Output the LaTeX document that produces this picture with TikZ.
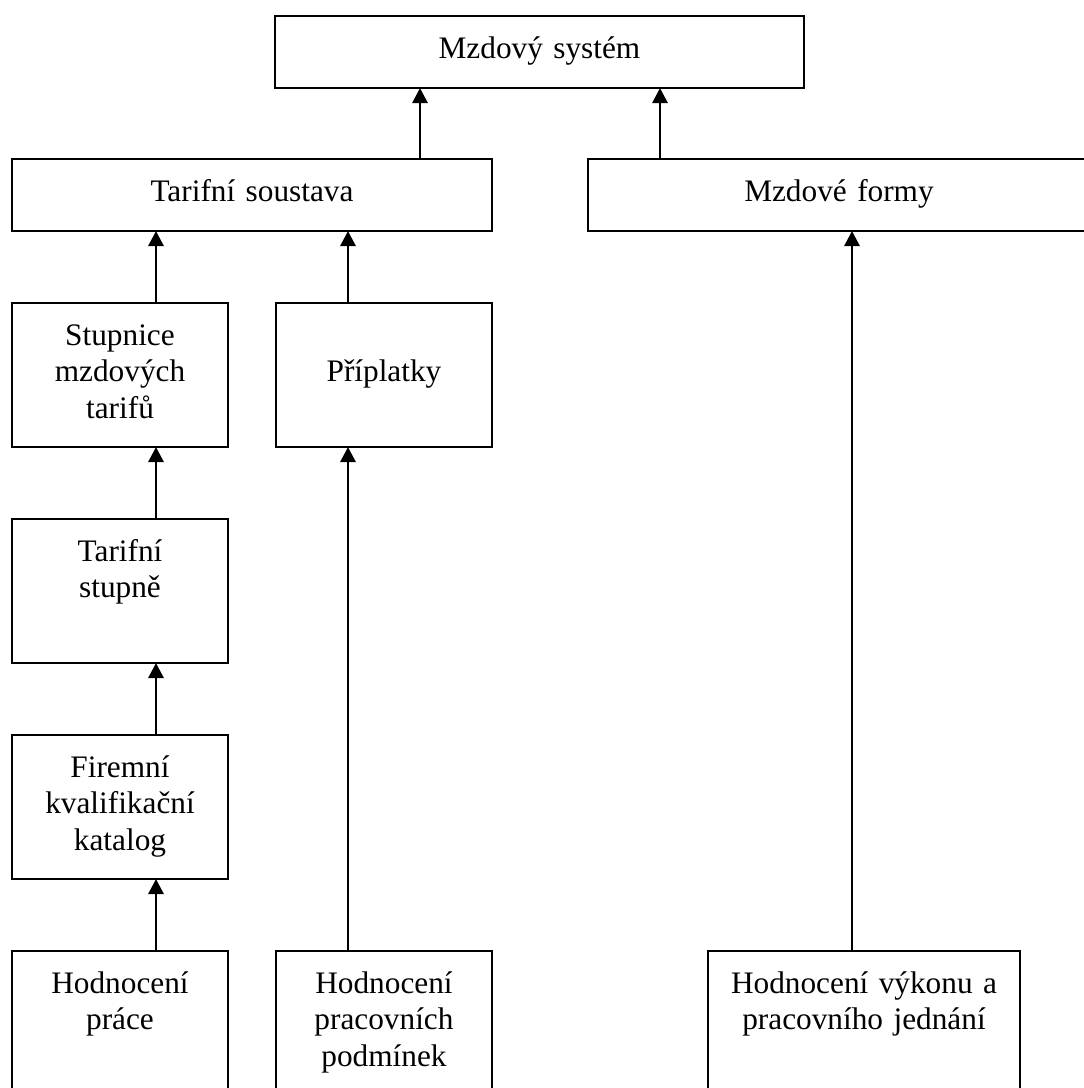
\documentclass[tikz,border=0pt]{standalone}
\usepackage{fontspec}
\setmainfont{Liberation Serif}
\usetikzlibrary{arrows.meta,positioning}

\begin{document}
\begin{tikzpicture}[
  x=1pt,y=-1pt,
  box/.style={draw,line width=2.8pt,inner sep=0pt,outer sep=0pt,anchor=north,
              align=center,font=\fontsize{31.3}{36.7}\selectfont,text height=42pt},
  wide/.style={box,text width=#1,text depth=30pt},
  tall/.style={box,text width=#1,text depth=102pt},
  arr/.style={-{Triangle[width=15pt,length=15pt]},line width=2.8pt}
]
\clip (0,0) rectangle (1084,1088);
% columns of the arrows
\coordinate (lcol) at (156,0);
\coordinate (mcol) at (348,0);
\coordinate (tcol) at (420,0);
\coordinate (fcol) at (660,0);
\coordinate (rcol) at (852,0);
% top levels
\node[wide=529pt] (mzdy) at (539.5,16) {Mzdový systém};
\node[wide=480pt] (tarif) at (252,159) {Tarifní soustava};
\node[wide=502pt] (formy) at (839,159) {Mzdové formy};
% left and middle columns
\node[tall=216pt] (stup) at (120,303) {Stupnice\\mzdových\\tarifů};
\node[tall=216pt,text height=78.7pt,text depth=65.3pt] (prip) at (384,303) {Příplatky};
\node[tall=216pt] (stupne) at (120,519) {Tarifní\\stupně};
\node[tall=216pt] (katalog) at (120,735) {Firemní\\kvalifikační\\katalog};
% bottom row
\node[tall=216pt] (prace) at (120,951) {Hodnocení\\práce};
\node[tall=216pt] (podm) at (384,951) {Hodnocení\\pracovních\\podmínek};
\node[tall=312pt] (vykon) at (864,951) {Hodnocení výkonu a\\pracovního jednání};
% arrows
\draw[arr] (tarif.north -| tcol) -- (mzdy.south -| tcol);
\draw[arr] (formy.north -| fcol) -- (mzdy.south -| fcol);
\draw[arr] (stup.north -| lcol) -- (tarif.south -| lcol);
\draw[arr] (prip.north -| mcol) -- (tarif.south -| mcol);
\draw[arr] (stupne.north -| lcol) -- (stup.south -| lcol);
\draw[arr] (katalog.north -| lcol) -- (stupne.south -| lcol);
\draw[arr] (prace.north -| lcol) -- (katalog.south -| lcol);
\draw[arr] (podm.north -| mcol) -- (prip.south -| mcol);
\draw[arr] (vykon.north -| rcol) -- (formy.south -| rcol);
\end{tikzpicture}
\end{document}
